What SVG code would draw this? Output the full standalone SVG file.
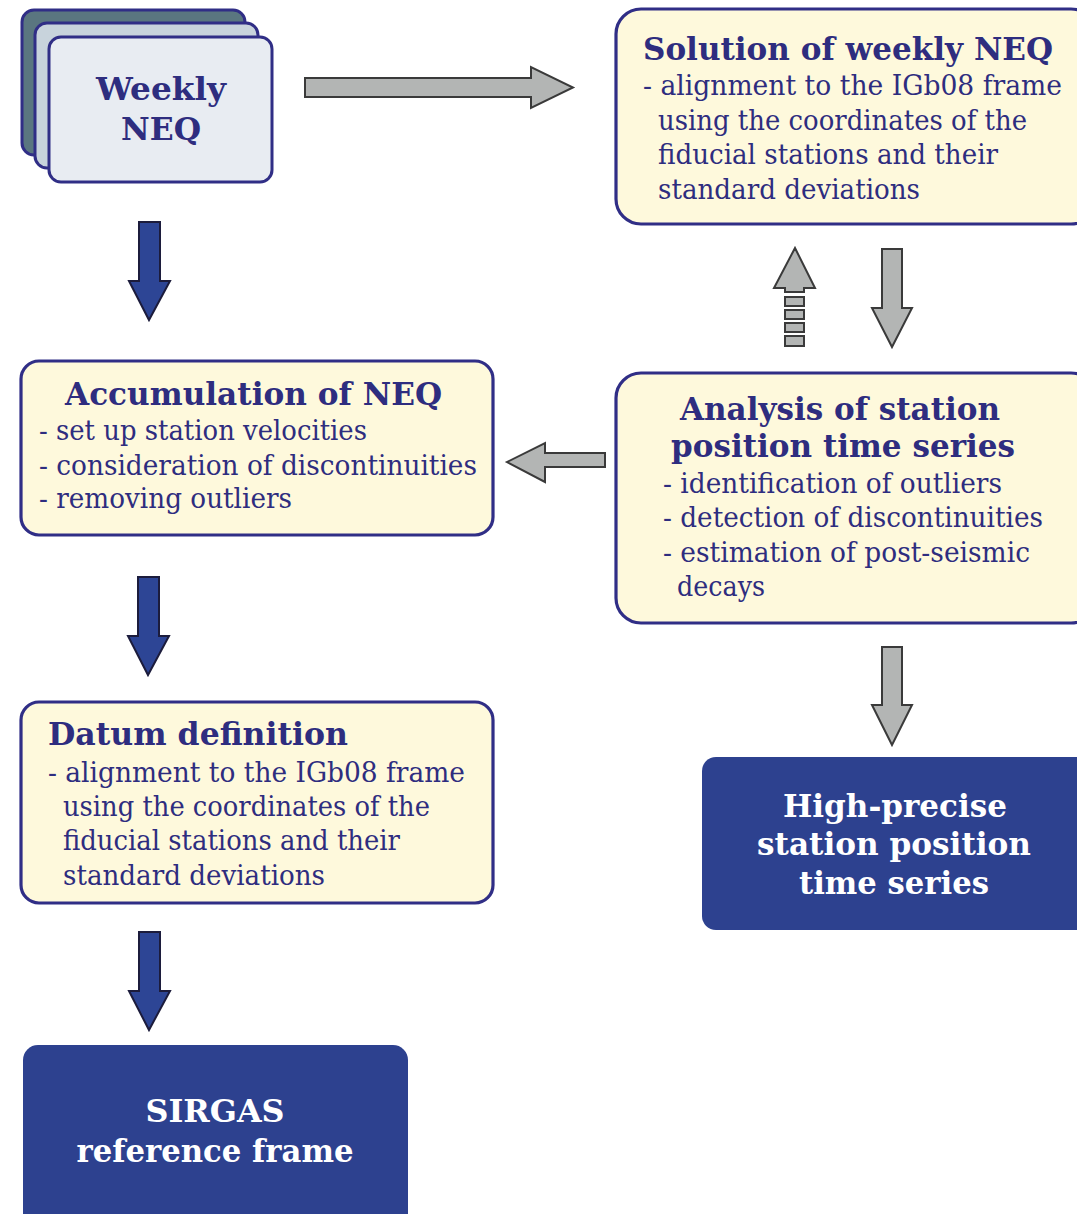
<svg xmlns="http://www.w3.org/2000/svg" width="1077" height="1214" viewBox="0 0 1077 1214">
<style>
.box{fill:#fef9dc;stroke:#302e86;stroke-width:3.2}
.dark{fill:#2d418f;stroke:none}
.t{font-family:"DejaVu Serif","Liberation Serif",serif;fill:#2e2d7f}
.title{font-size:31px;font-weight:bold}
.body{font-size:27px}
.w{font-family:"DejaVu Serif","Liberation Serif",serif;fill:#ffffff;font-size:32px;font-weight:bold;text-anchor:middle}
.garrow{fill:#b3b5b4;stroke:#3a3a3a;stroke-width:2;stroke-linejoin:miter}
.barrow{fill:#2d4595;stroke:#1c1c3c;stroke-width:2}
</style>
<rect width="1077" height="1214" fill="#ffffff"/>

<g id="connectors">
  <polygon class="garrow" points="305,78 531,78 531,67 573,87.5 531,108 531,97 305,97"/>
  <polygon class="barrow" points="139,222 160,222 160,281 170,281 149,320 129,281 139,281"/>
  <polygon class="barrow" points="138,577 159,577 159,636 169,636 148,675 128,636 138,636"/>
  <polygon class="barrow" points="139,932 160,932 160,991 170,991 149,1030 129,991 139,991"/>
  <polygon class="garrow" points="605,453 605,467 545,467 545,482 507,462 545,443 545,453"/>
  <g id="dashed-up">
    <polygon class="garrow" points="795,248 815,288 804,288 804,292 785,292 785,288 774,288"/>
    <rect class="garrow" x="785" y="297" width="19" height="9"/>
    <rect class="garrow" x="785" y="310" width="19" height="9"/>
    <rect class="garrow" x="785" y="323" width="19" height="9"/>
    <rect class="garrow" x="785" y="336" width="19" height="10"/>
  </g>
  <polygon class="garrow" points="882,249 902,249 902,308 912,308 892,347 872,308 882,308"/>
  <polygon class="garrow" points="882,647 902,647 902,705 912,705 892,745 872,705 882,705"/>
</g>

<g id="weekly-neq">
  <rect x="22" y="10" width="223" height="145" rx="12" fill="#5a7680" stroke="#302e86" stroke-width="3"/>
  <rect x="35" y="23" width="223" height="145" rx="12" fill="#c8d3dc" stroke="#302e86" stroke-width="3"/>
  <rect x="49" y="37" width="223" height="145" rx="12" fill="#e8ecf2" stroke="#302e86" stroke-width="3"/>
  <text class="t title" x="161" y="100" text-anchor="middle" font-size="34" textLength="130" lengthAdjust="spacingAndGlyphs">Weekly</text>
  <text class="t title" x="161" y="140" text-anchor="middle" font-size="34" textLength="80" lengthAdjust="spacingAndGlyphs">NEQ</text>
</g>

<g id="solution">
  <rect class="box" x="616" y="9" width="480" height="215" rx="25"/>
  <text class="t title" x="643" y="60" textLength="410" lengthAdjust="spacingAndGlyphs">Solution of weekly NEQ</text>
  <text class="t body" x="643" y="95" textLength="419" lengthAdjust="spacingAndGlyphs">- alignment to the IGb08 frame</text>
  <text class="t body" x="658" y="130" textLength="369" lengthAdjust="spacingAndGlyphs">using the coordinates of the</text>
  <text class="t body" x="658" y="164" textLength="340" lengthAdjust="spacingAndGlyphs">fiducial stations and their</text>
  <text class="t body" x="658" y="199" textLength="262" lengthAdjust="spacingAndGlyphs">standard deviations</text>
</g>

<g id="accumulation">
  <rect class="box" x="21" y="361" width="472" height="174" rx="18"/>
  <text class="t title" x="65" y="405" textLength="377" lengthAdjust="spacingAndGlyphs">Accumulation of NEQ</text>
  <text class="t body" x="39" y="440" textLength="328" lengthAdjust="spacingAndGlyphs">- set up station velocities</text>
  <text class="t body" x="39" y="475" textLength="438" lengthAdjust="spacingAndGlyphs">- consideration of discontinuities</text>
  <text class="t body" x="39" y="508" textLength="253" lengthAdjust="spacingAndGlyphs">- removing outliers</text>
</g>

<g id="analysis">
  <rect class="box" x="616" y="373" width="480" height="250" rx="25"/>
  <text class="t title" x="680" y="420" textLength="320" lengthAdjust="spacingAndGlyphs">Analysis of station</text>
  <text class="t title" x="671" y="457" textLength="344" lengthAdjust="spacingAndGlyphs">position time series</text>
  <text class="t body" x="663" y="493" textLength="339" lengthAdjust="spacingAndGlyphs">- identification of outliers</text>
  <text class="t body" x="663" y="527" textLength="380" lengthAdjust="spacingAndGlyphs">- detection of discontinuities</text>
  <text class="t body" x="663" y="562" textLength="367" lengthAdjust="spacingAndGlyphs">- estimation of post-seismic</text>
  <text class="t body" x="677" y="596" textLength="88" lengthAdjust="spacingAndGlyphs">decays</text>
</g>

<g id="datum">
  <rect class="box" x="21" y="702" width="472" height="201" rx="18"/>
  <text class="t title" x="48" y="745" textLength="300" lengthAdjust="spacingAndGlyphs">Datum definition</text>
  <text class="t body" x="48" y="782" textLength="417" lengthAdjust="spacingAndGlyphs">- alignment to the IGb08 frame</text>
  <text class="t body" x="63" y="816" textLength="367" lengthAdjust="spacingAndGlyphs">using the coordinates of the</text>
  <text class="t body" x="63" y="850" textLength="337" lengthAdjust="spacingAndGlyphs">fiducial stations and their</text>
  <text class="t body" x="63" y="885" textLength="262" lengthAdjust="spacingAndGlyphs">standard deviations</text>
</g>

<g id="high-precise">
  <rect class="dark" x="702" y="757" width="400" height="173" rx="14"/>
  <text class="w" x="895" y="817" textLength="224" lengthAdjust="spacingAndGlyphs">High-precise</text>
  <text class="w" x="894" y="855" textLength="274" lengthAdjust="spacingAndGlyphs">station position</text>
  <text class="w" x="894" y="894" textLength="190" lengthAdjust="spacingAndGlyphs">time series</text>
</g>

<g id="sirgas">
  <rect class="dark" x="23" y="1045" width="385" height="190" rx="15"/>
  <text class="w" x="215" y="1122" textLength="139" lengthAdjust="spacingAndGlyphs">SIRGAS</text>
  <text class="w" x="215" y="1162" textLength="277" lengthAdjust="spacingAndGlyphs">reference frame</text>
</g>
</svg>
